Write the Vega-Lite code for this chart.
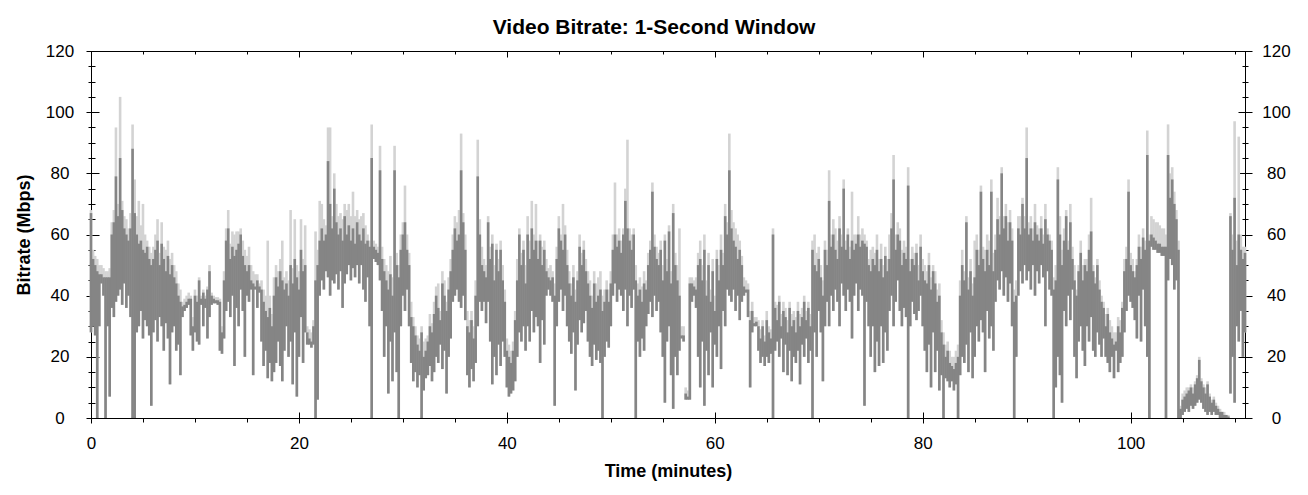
{
"$schema":"https://vega.github.io/schema/vega-lite/v6.json",
"width":1154,"height":367,
"autosize":{"type":"none"},
"padding":{"left":91,"top":51,"right":63,"bottom":77},
"background":"white",
"title":{"text":"Video Bitrate: 1-Second Window","font":"Liberation Sans","fontSize":21,"fontWeight":"bold","color":"black","anchor":"middle","frame":"group","dx":-14,"baseline":"alphabetic","offset":-13},
"config":{"view":{"stroke":"black","strokeWidth":1},"axis":{"tickColor":"black","tickWidth":1,"labelColor":"black","titleColor":"black","grid":false,"zindex":1,"labelFont":"Liberation Sans","titleFont":"Liberation Sans","labelFontSize":17,"titleFontSize":18,"titleFontWeight":"bold","labelFlush":false,"labelOverlap":false,"domain":false}},
"data":{"values":[
{"t":0,"a":28,"b":67,"c":68},{"t":0.2,"a":30,"b":52,"c":55},{"t":0.4,"a":27,"b":50,"c":53},{"t":0.6,"a":0,"b":48,"c":52},{"t":0.8,"a":30,"b":47,"c":50},
{"t":1,"a":44,"b":47,"c":50},{"t":1.2,"a":40,"b":46,"c":49},{"t":1.4,"a":0,"b":46,"c":48},{"t":1.6,"a":30,"b":46,"c":48},{"t":1.8,"a":7,"b":46,"c":49},
{"t":2,"a":36,"b":60,"c":64},{"t":2.2,"a":33,"b":64,"c":68},{"t":2.4,"a":38,"b":79,"c":95},{"t":2.6,"a":40,"b":66,"c":70},{"t":2.8,"a":42,"b":85,"c":105},
{"t":3,"a":37,"b":68,"c":71},{"t":3.2,"a":44,"b":62,"c":66},{"t":3.4,"a":36,"b":60,"c":65},{"t":3.6,"a":40,"b":58,"c":62},{"t":3.8,"a":33,"b":62,"c":67},
{"t":4,"a":0,"b":88,"c":96},{"t":4.2,"a":0,"b":67,"c":78},{"t":4.4,"a":28,"b":60,"c":66},{"t":4.6,"a":30,"b":57,"c":71},{"t":4.8,"a":35,"b":58,"c":63},
{"t":5,"a":26,"b":55,"c":70},{"t":5.2,"a":32,"b":54,"c":60},{"t":5.4,"a":30,"b":56,"c":58},{"t":5.6,"a":27,"b":52,"c":56},{"t":5.8,"a":4,"b":50,"c":54},
{"t":6,"a":28,"b":52,"c":56},{"t":6.2,"a":32,"b":55,"c":60},{"t":6.4,"a":25,"b":58,"c":65},{"t":6.6,"a":33,"b":50,"c":54},{"t":6.8,"a":30,"b":57,"c":64},
{"t":7,"a":22,"b":52,"c":56},{"t":7.2,"a":31,"b":48,"c":55},{"t":7.4,"a":26,"b":53,"c":58},{"t":7.6,"a":11,"b":47,"c":52},{"t":7.8,"a":28,"b":50,"c":54},
{"t":8,"a":30,"b":46,"c":50},{"t":8.2,"a":22,"b":44,"c":48},{"t":8.4,"a":24,"b":40,"c":44},{"t":8.6,"a":14,"b":38,"c":42},{"t":8.8,"a":33,"b":36.5,"c":38},
{"t":9,"a":35,"b":37,"c":39},{"t":9.2,"a":36,"b":38,"c":40},{"t":9.4,"a":37,"b":39,"c":41},{"t":9.6,"a":27,"b":39,"c":40},{"t":9.8,"a":22,"b":30,"c":33},
{"t":10,"a":28,"b":40,"c":42},{"t":10.2,"a":25,"b":38,"c":40},{"t":10.4,"a":24,"b":45,"c":46},{"t":10.6,"a":37,"b":39,"c":40},{"t":10.8,"a":30,"b":41,"c":42},
{"t":11,"a":36,"b":39,"c":40},{"t":11.2,"a":26,"b":42,"c":43},{"t":11.4,"a":33,"b":48,"c":50},{"t":11.6,"a":37,"b":40,"c":41},{"t":11.8,"a":37.5,"b":39,"c":40},
{"t":12,"a":37.5,"b":38.5,"c":39.5},{"t":12.2,"a":37,"b":38.5,"c":39.5},{"t":12.4,"a":22,"b":38,"c":39},{"t":12.6,"a":21,"b":28,"c":30},{"t":12.8,"a":26,"b":45,"c":48},
{"t":13,"a":35,"b":58,"c":62},{"t":13.2,"a":38,"b":62,"c":68},{"t":13.4,"a":33,"b":52,"c":57},{"t":13.6,"a":40,"b":56,"c":61},{"t":13.8,"a":17,"b":53,"c":60},
{"t":14,"a":36,"b":55,"c":61},{"t":14.2,"a":30,"b":57,"c":61},{"t":14.4,"a":42,"b":60,"c":62},{"t":14.6,"a":35,"b":53,"c":58},{"t":14.8,"a":20,"b":50,"c":55},
{"t":15,"a":40,"b":48,"c":53},{"t":15.2,"a":38,"b":50,"c":56},{"t":15.4,"a":42,"b":45,"c":50},{"t":15.6,"a":14,"b":44,"c":48},{"t":15.8,"a":42,"b":43,"c":47},
{"t":16,"a":36,"b":45,"c":47},{"t":16.2,"a":41,"b":43,"c":44},{"t":16.4,"a":25,"b":42,"c":45},{"t":16.6,"a":17,"b":38,"c":42},{"t":16.8,"a":22,"b":35,"c":40},
{"t":17,"a":13,"b":33,"c":58},{"t":17.2,"a":18,"b":36,"c":40},{"t":17.4,"a":12,"b":30,"c":34},{"t":17.6,"a":15,"b":40,"c":46},{"t":17.8,"a":18,"b":46,"c":50},
{"t":18,"a":25,"b":43,"c":48},{"t":18.2,"a":17,"b":48,"c":52},{"t":18.4,"a":12,"b":45,"c":58},{"t":18.6,"a":22,"b":42,"c":46},{"t":18.8,"a":30,"b":44,"c":48},
{"t":19,"a":20,"b":40,"c":45},{"t":19.2,"a":25,"b":50,"c":68},{"t":19.4,"a":11,"b":44,"c":49},{"t":19.6,"a":28,"b":52,"c":65},{"t":19.8,"a":7,"b":46,"c":50},
{"t":20,"a":20,"b":42,"c":48},{"t":20.2,"a":33,"b":55,"c":65},{"t":20.4,"a":18,"b":48,"c":52},{"t":20.6,"a":28,"b":50,"c":63},{"t":20.8,"a":24,"b":28,"c":30},
{"t":21,"a":24,"b":26,"c":29},{"t":21.2,"a":23,"b":25,"c":28},{"t":21.4,"a":24,"b":30,"c":32},{"t":21.6,"a":0,"b":45,"c":61},{"t":21.8,"a":6,"b":50,"c":55},
{"t":22,"a":40,"b":58,"c":71},{"t":22.2,"a":45,"b":62,"c":70},{"t":22.4,"a":42,"b":58,"c":65},{"t":22.6,"a":48,"b":60,"c":63},{"t":22.8,"a":46,"b":84,"c":95},
{"t":23,"a":40,"b":70,"c":95},{"t":23.2,"a":45,"b":62,"c":66},{"t":23.4,"a":44,"b":75,"c":80},{"t":23.6,"a":47,"b":64,"c":70},{"t":23.8,"a":42,"b":60,"c":66},
{"t":24,"a":48,"b":62,"c":67},{"t":24.2,"a":36,"b":58,"c":65},{"t":24.4,"a":44,"b":66,"c":70},{"t":24.6,"a":47,"b":60,"c":68},{"t":24.8,"a":50,"b":63,"c":70},
{"t":25,"a":45,"b":58,"c":66},{"t":25.2,"a":49,"b":62,"c":74},{"t":25.4,"a":46,"b":57,"c":66},{"t":25.6,"a":50,"b":64,"c":68},{"t":25.8,"a":44,"b":60,"c":65},
{"t":26,"a":50,"b":58,"c":66},{"t":26.2,"a":42,"b":62,"c":67},{"t":26.4,"a":38,"b":57,"c":63},{"t":26.6,"a":46,"b":58,"c":60},{"t":26.8,"a":30,"b":56,"c":58},
{"t":27,"a":0,"b":85,"c":96},{"t":27.2,"a":52,"b":56,"c":58},{"t":27.4,"a":51,"b":55,"c":57},{"t":27.6,"a":50,"b":54,"c":56},{"t":27.8,"a":45,"b":81,"c":89},
{"t":28,"a":35,"b":52,"c":56},{"t":28.2,"a":20,"b":48,"c":52},{"t":28.4,"a":30,"b":45,"c":50},{"t":28.6,"a":8,"b":42,"c":48},{"t":28.8,"a":25,"b":47,"c":53},
{"t":29,"a":12,"b":40,"c":46},{"t":29.2,"a":28,"b":81,"c":89},{"t":29.4,"a":15,"b":50,"c":54},{"t":29.6,"a":0,"b":46,"c":50},{"t":29.8,"a":30,"b":55,"c":60},
{"t":30,"a":40,"b":60,"c":64},{"t":30.2,"a":35,"b":64,"c":76},{"t":30.4,"a":42,"b":55,"c":60},{"t":30.6,"a":30,"b":50,"c":54},{"t":30.8,"a":18,"b":33,"c":38},
{"t":31,"a":12,"b":30,"c":33},{"t":31.2,"a":15,"b":27,"c":30},{"t":31.4,"a":10,"b":24,"c":27},{"t":31.6,"a":14,"b":22,"c":26},{"t":31.8,"a":0,"b":28,"c":30},
{"t":32,"a":9,"b":20,"c":25},{"t":32.2,"a":13,"b":22,"c":26},{"t":32.4,"a":14,"b":25,"c":27},{"t":32.6,"a":17,"b":30,"c":34},{"t":32.8,"a":12,"b":28,"c":31},
{"t":33,"a":15,"b":34,"c":38},{"t":33.2,"a":20,"b":40,"c":43},{"t":33.4,"a":18,"b":36,"c":44},{"t":33.6,"a":24,"b":32,"c":35},{"t":33.8,"a":16,"b":44,"c":48},
{"t":34,"a":22,"b":40,"c":45},{"t":34.2,"a":8,"b":35,"c":38},{"t":34.4,"a":20,"b":42,"c":46},{"t":34.6,"a":26,"b":48,"c":52},{"t":34.8,"a":38,"b":55,"c":60},
{"t":35,"a":40,"b":62,"c":66},{"t":35.2,"a":42,"b":58,"c":64},{"t":35.4,"a":38,"b":60,"c":68},{"t":35.6,"a":36,"b":81,"c":93},{"t":35.8,"a":40,"b":64,"c":67},
{"t":36,"a":32,"b":55,"c":60},{"t":36.2,"a":14,"b":30,"c":35},{"t":36.4,"a":10,"b":28,"c":32},{"t":36.6,"a":16,"b":32,"c":35},{"t":36.8,"a":12,"b":26,"c":30},
{"t":37,"a":18,"b":40,"c":45},{"t":37.2,"a":30,"b":79,"c":91},{"t":37.4,"a":38,"b":60,"c":65},{"t":37.6,"a":35,"b":50,"c":56},{"t":37.8,"a":38,"b":48,"c":52},
{"t":38,"a":31,"b":46,"c":50},{"t":38.2,"a":38,"b":64,"c":66},{"t":38.4,"a":25,"b":52,"c":56},{"t":38.6,"a":11,"b":57,"c":60},{"t":38.8,"a":20,"b":45,"c":50},
{"t":39,"a":14,"b":55,"c":57},{"t":39.2,"a":24,"b":48,"c":52},{"t":39.4,"a":17,"b":55,"c":58},{"t":39.6,"a":25,"b":45,"c":50},{"t":39.8,"a":20,"b":38,"c":42},
{"t":40,"a":10,"b":22,"c":26},{"t":40.2,"a":7,"b":20,"c":24},{"t":40.4,"a":8,"b":18,"c":22},{"t":40.6,"a":9,"b":22,"c":25},{"t":40.8,"a":12,"b":32,"c":35},
{"t":41,"a":20,"b":45,"c":52},{"t":41.2,"a":28,"b":60,"c":62},{"t":41.4,"a":25,"b":50,"c":54},{"t":41.6,"a":30,"b":55,"c":58},{"t":41.8,"a":22,"b":44,"c":50},
{"t":42,"a":30,"b":60,"c":66},{"t":42.2,"a":25,"b":52,"c":58},{"t":42.4,"a":35,"b":62,"c":71},{"t":42.6,"a":28,"b":55,"c":60},{"t":42.8,"a":33,"b":58,"c":70},
{"t":43,"a":30,"b":52,"c":58},{"t":43.2,"a":18,"b":58,"c":60},{"t":43.4,"a":32,"b":50,"c":56},{"t":43.6,"a":24,"b":55,"c":58},{"t":43.8,"a":40,"b":48,"c":52},
{"t":44,"a":42,"b":46,"c":49},{"t":44.2,"a":40,"b":45,"c":50},{"t":44.4,"a":38,"b":46,"c":48},{"t":44.6,"a":4,"b":40,"c":44},{"t":44.8,"a":30,"b":52,"c":56},
{"t":45,"a":38,"b":62,"c":66},{"t":45.2,"a":42,"b":58,"c":60},{"t":45.4,"a":35,"b":55,"c":70},{"t":45.6,"a":40,"b":60,"c":63},{"t":45.8,"a":30,"b":50,"c":55},
{"t":46,"a":25,"b":44,"c":48},{"t":46.2,"a":21,"b":40,"c":44},{"t":46.4,"a":28,"b":46,"c":50},{"t":46.6,"a":9,"b":38,"c":42},{"t":46.8,"a":24,"b":45,"c":48},
{"t":47,"a":32,"b":56,"c":60},{"t":47.2,"a":28,"b":50,"c":54},{"t":47.4,"a":31,"b":55,"c":58},{"t":47.6,"a":35,"b":48,"c":52},{"t":47.8,"a":25,"b":44,"c":48},
{"t":48,"a":20,"b":40,"c":45},{"t":48.2,"a":17,"b":36,"c":40},{"t":48.4,"a":24,"b":44,"c":48},{"t":48.6,"a":19,"b":38,"c":44},{"t":48.8,"a":22,"b":40,"c":46},
{"t":49,"a":18,"b":42,"c":48},{"t":49.2,"a":0,"b":35,"c":40},{"t":49.4,"a":20,"b":38,"c":42},{"t":49.6,"a":25,"b":42,"c":45},{"t":49.8,"a":23,"b":38,"c":42},
{"t":50,"a":30,"b":44,"c":48},{"t":50.2,"a":40,"b":55,"c":60},{"t":50.4,"a":44,"b":60,"c":77},{"t":50.6,"a":38,"b":56,"c":60},{"t":50.8,"a":42,"b":58,"c":62},
{"t":51,"a":40,"b":54,"c":58},{"t":51.2,"a":35,"b":60,"c":62},{"t":51.4,"a":42,"b":71,"c":75},{"t":51.6,"a":30,"b":62,"c":91},{"t":51.8,"a":40,"b":58,"c":62},
{"t":52,"a":36,"b":55,"c":60},{"t":52.2,"a":42,"b":60,"c":62},{"t":52.4,"a":0,"b":45,"c":50},{"t":52.6,"a":25,"b":40,"c":44},{"t":52.8,"a":20,"b":42,"c":46},
{"t":53,"a":26,"b":38,"c":43},{"t":53.2,"a":22,"b":44,"c":48},{"t":53.4,"a":30,"b":42,"c":45},{"t":53.6,"a":34,"b":50,"c":54},{"t":53.8,"a":38,"b":55,"c":58},
{"t":54,"a":33,"b":74,"c":77},{"t":54.2,"a":40,"b":56,"c":60},{"t":54.4,"a":35,"b":52,"c":56},{"t":54.6,"a":38,"b":50,"c":54},{"t":54.8,"a":28,"b":55,"c":58},
{"t":55,"a":20,"b":45,"c":50},{"t":55.2,"a":5,"b":58,"c":60},{"t":55.4,"a":25,"b":48,"c":52},{"t":55.6,"a":30,"b":61,"c":63},{"t":55.8,"a":14,"b":44,"c":48},
{"t":56,"a":3,"b":67,"c":70},{"t":56.2,"a":20,"b":50,"c":54},{"t":56.4,"a":14,"b":45,"c":50},{"t":56.6,"a":22,"b":40,"c":62},{"t":56.8,"a":26,"b":27,"c":30},
{"t":57,"a":25,"b":27,"c":30},{"t":57.2,"a":6,"b":8,"c":10},{"t":57.4,"a":6,"b":7,"c":9},{"t":57.6,"a":6,"b":44,"c":46},{"t":57.8,"a":38,"b":44,"c":46},
{"t":58,"a":40,"b":43,"c":45},{"t":58.2,"a":36,"b":42,"c":46},{"t":58.4,"a":20,"b":50,"c":54},{"t":58.6,"a":10,"b":52,"c":58},{"t":58.8,"a":25,"b":45,"c":50},
{"t":59,"a":4,"b":55,"c":60},{"t":59.2,"a":22,"b":40,"c":45},{"t":59.4,"a":14,"b":50,"c":54},{"t":59.6,"a":28,"b":38,"c":42},{"t":59.8,"a":10,"b":48,"c":52},
{"t":60,"a":24,"b":35,"c":40},{"t":60.2,"a":20,"b":52,"c":55},{"t":60.4,"a":30,"b":45,"c":50},{"t":60.6,"a":16,"b":55,"c":60},{"t":60.8,"a":35,"b":50,"c":54},
{"t":61,"a":30,"b":66,"c":70},{"t":61.2,"a":42,"b":60,"c":64},{"t":61.4,"a":40,"b":81,"c":93},{"t":61.6,"a":38,"b":62,"c":68},{"t":61.8,"a":42,"b":58,"c":64},
{"t":62,"a":35,"b":56,"c":62},{"t":62.2,"a":40,"b":52,"c":60},{"t":62.4,"a":32,"b":55,"c":58},{"t":62.6,"a":38,"b":50,"c":53},{"t":62.8,"a":40,"b":43,"c":46},
{"t":63,"a":41,"b":42,"c":45},{"t":63.2,"a":33,"b":42,"c":44},{"t":63.4,"a":10,"b":32,"c":35},{"t":63.6,"a":28,"b":35,"c":38},{"t":63.8,"a":30,"b":31,"c":33},
{"t":64,"a":30,"b":31.5,"c":33},{"t":64.2,"a":22,"b":30,"c":32},{"t":64.4,"a":18,"b":26,"c":29},{"t":64.6,"a":20,"b":30,"c":32},{"t":64.8,"a":17,"b":25,"c":27},
{"t":65,"a":20,"b":32,"c":35},{"t":65.2,"a":18,"b":28,"c":30},{"t":65.4,"a":21,"b":26,"c":29},{"t":65.6,"a":0,"b":60,"c":62},{"t":65.8,"a":22,"b":36,"c":38},
{"t":66,"a":25,"b":32,"c":37},{"t":66.2,"a":20,"b":38,"c":40},{"t":66.4,"a":26,"b":30,"c":34},{"t":66.6,"a":15,"b":35,"c":38},{"t":66.8,"a":24,"b":33,"c":36},
{"t":67,"a":14,"b":28,"c":32},{"t":67.2,"a":22,"b":36,"c":38},{"t":67.4,"a":12,"b":30,"c":34},{"t":67.6,"a":20,"b":32,"c":35},{"t":67.8,"a":18,"b":28,"c":33},
{"t":68,"a":22,"b":35,"c":38},{"t":68.2,"a":11,"b":30,"c":34},{"t":68.4,"a":24,"b":33,"c":36},{"t":68.6,"a":20,"b":38,"c":40},{"t":68.8,"a":26,"b":32,"c":35},
{"t":69,"a":18,"b":36,"c":38},{"t":69.2,"a":22,"b":30,"c":34},{"t":69.4,"a":0,"b":55,"c":58},{"t":69.6,"a":28,"b":50,"c":60},{"t":69.8,"a":20,"b":48,"c":54},
{"t":70,"a":35,"b":52,"c":56},{"t":70.2,"a":28,"b":46,"c":50},{"t":70.4,"a":12,"b":40,"c":45},{"t":70.6,"a":30,"b":55,"c":58},{"t":70.8,"a":38,"b":50,"c":55},
{"t":71,"a":30,"b":71,"c":81},{"t":71.2,"a":40,"b":56,"c":60},{"t":71.4,"a":35,"b":60,"c":65},{"t":71.6,"a":42,"b":55,"c":62},{"t":71.8,"a":38,"b":52,"c":58},
{"t":72,"a":30,"b":62,"c":66},{"t":72.2,"a":44,"b":56,"c":60},{"t":72.4,"a":40,"b":75,"c":78},{"t":72.6,"a":35,"b":55,"c":58},{"t":72.8,"a":42,"b":60,"c":62},
{"t":73,"a":38,"b":52,"c":56},{"t":73.2,"a":26,"b":58,"c":74},{"t":73.4,"a":40,"b":55,"c":60},{"t":73.6,"a":44,"b":57,"c":60},{"t":73.8,"a":35,"b":60,"c":66},
{"t":74,"a":42,"b":56,"c":60},{"t":74.2,"a":40,"b":58,"c":62},{"t":74.4,"a":4,"b":57,"c":60},{"t":74.6,"a":38,"b":56,"c":58},{"t":74.8,"a":30,"b":50,"c":52},
{"t":75,"a":20,"b":48,"c":55},{"t":75.2,"a":30,"b":52,"c":56},{"t":75.4,"a":15,"b":50,"c":54},{"t":75.6,"a":25,"b":55,"c":60},{"t":75.8,"a":17,"b":48,"c":52},
{"t":76,"a":30,"b":52,"c":57},{"t":76.2,"a":18,"b":46,"c":50},{"t":76.4,"a":28,"b":53,"c":56},{"t":76.6,"a":22,"b":48,"c":52},{"t":76.8,"a":35,"b":52,"c":60},
{"t":77,"a":40,"b":62,"c":67},{"t":77.2,"a":30,"b":78,"c":86},{"t":77.4,"a":38,"b":55,"c":60},{"t":77.6,"a":45,"b":60,"c":64},{"t":77.8,"a":35,"b":58,"c":62},
{"t":78,"a":30,"b":50,"c":55},{"t":78.2,"a":36,"b":54,"c":58},{"t":78.4,"a":33,"b":52,"c":56},{"t":78.6,"a":0,"b":76,"c":82},{"t":78.8,"a":30,"b":48,"c":52},
{"t":79,"a":38,"b":52,"c":56},{"t":79.2,"a":34,"b":50,"c":54},{"t":79.4,"a":32,"b":54,"c":57},{"t":79.6,"a":35,"b":45,"c":50},{"t":79.8,"a":40,"b":56,"c":60},
{"t":80,"a":30,"b":48,"c":52},{"t":80.2,"a":22,"b":45,"c":50},{"t":80.4,"a":15,"b":44,"c":48},{"t":80.6,"a":24,"b":50,"c":54},{"t":80.8,"a":10,"b":42,"c":46},
{"t":81,"a":28,"b":48,"c":50},{"t":81.2,"a":15,"b":44,"c":48},{"t":81.4,"a":22,"b":38,"c":42},{"t":81.6,"a":9,"b":40,"c":44},{"t":81.8,"a":14,"b":28,"c":32},
{"t":82,"a":0,"b":24,"c":28},{"t":82.2,"a":13,"b":20,"c":24},{"t":82.4,"a":12,"b":22,"c":25},{"t":82.6,"a":10,"b":18,"c":22},{"t":82.8,"a":12,"b":17,"c":20},
{"t":83,"a":9,"b":16,"c":20},{"t":83.2,"a":11,"b":18,"c":22},{"t":83.4,"a":0,"b":20,"c":24},{"t":83.6,"a":14,"b":40,"c":45},{"t":83.8,"a":20,"b":50,"c":55},
{"t":84,"a":18,"b":45,"c":48},{"t":84.2,"a":24,"b":64,"c":66},{"t":84.4,"a":15,"b":42,"c":46},{"t":84.6,"a":28,"b":48,"c":52},{"t":84.8,"a":13,"b":40,"c":44},
{"t":85,"a":20,"b":46,"c":58},{"t":85.2,"a":30,"b":55,"c":60},{"t":85.4,"a":25,"b":50,"c":55},{"t":85.6,"a":32,"b":74,"c":76},{"t":85.8,"a":28,"b":52,"c":56},
{"t":86,"a":15,"b":48,"c":55},{"t":86.2,"a":35,"b":55,"c":60},{"t":86.4,"a":26,"b":50,"c":58},{"t":86.6,"a":30,"b":74,"c":78},{"t":86.8,"a":22,"b":48,"c":54},
{"t":87,"a":38,"b":55,"c":60},{"t":87.2,"a":45,"b":65,"c":72},{"t":87.4,"a":42,"b":60,"c":66},{"t":87.6,"a":48,"b":80,"c":82},{"t":87.8,"a":40,"b":62,"c":66},
{"t":88,"a":46,"b":66,"c":70},{"t":88.2,"a":38,"b":58,"c":64},{"t":88.4,"a":44,"b":64,"c":68},{"t":88.6,"a":30,"b":58,"c":62},{"t":88.8,"a":0,"b":38,"c":42},
{"t":89,"a":20,"b":40,"c":45},{"t":89.2,"a":40,"b":62,"c":66},{"t":89.4,"a":48,"b":60,"c":66},{"t":89.6,"a":44,"b":70,"c":72},{"t":89.8,"a":50,"b":62,"c":66},
{"t":90,"a":45,"b":85,"c":95},{"t":90.2,"a":48,"b":60,"c":64},{"t":90.4,"a":42,"b":62,"c":66},{"t":90.6,"a":50,"b":58,"c":62},{"t":90.8,"a":40,"b":64,"c":70},
{"t":91,"a":48,"b":60,"c":63},{"t":91.2,"a":44,"b":58,"c":62},{"t":91.4,"a":50,"b":62,"c":66},{"t":91.6,"a":46,"b":57,"c":60},{"t":91.8,"a":30,"b":65,"c":70},
{"t":92,"a":48,"b":60,"c":62},{"t":92.2,"a":42,"b":58,"c":60},{"t":92.4,"a":40,"b":55,"c":58},{"t":92.6,"a":0,"b":42,"c":46},{"t":92.8,"a":10,"b":45,"c":50},
{"t":93,"a":20,"b":78,"c":82},{"t":93.2,"a":14,"b":60,"c":66},{"t":93.4,"a":5,"b":50,"c":55},{"t":93.6,"a":35,"b":58,"c":62},{"t":93.8,"a":30,"b":66,"c":68},
{"t":94,"a":40,"b":55,"c":58},{"t":94.2,"a":32,"b":64,"c":70},{"t":94.4,"a":42,"b":52,"c":56},{"t":94.6,"a":20,"b":45,"c":50},{"t":94.8,"a":13,"b":40,"c":42},
{"t":95,"a":25,"b":48,"c":50},{"t":95.2,"a":30,"b":54,"c":58},{"t":95.4,"a":22,"b":45,"c":50},{"t":95.6,"a":17,"b":50,"c":52},{"t":95.8,"a":30,"b":48,"c":52},
{"t":96,"a":25,"b":55,"c":60},{"t":96.2,"a":33,"b":61,"c":72},{"t":96.4,"a":22,"b":48,"c":50},{"t":96.6,"a":20,"b":44,"c":46},{"t":96.8,"a":28,"b":50,"c":52},
{"t":97,"a":24,"b":42,"c":45},{"t":97.2,"a":20,"b":38,"c":40},{"t":97.4,"a":26,"b":36,"c":38},{"t":97.6,"a":20,"b":30,"c":34},{"t":97.8,"a":18,"b":34,"c":36},
{"t":98,"a":15,"b":28,"c":32},{"t":98.2,"a":20,"b":26,"c":30},{"t":98.4,"a":13,"b":24,"c":28},{"t":98.6,"a":22,"b":25,"c":28},{"t":98.8,"a":15,"b":30,"c":33},
{"t":99,"a":18,"b":28,"c":32},{"t":99.2,"a":20,"b":36,"c":38},{"t":99.4,"a":28,"b":48,"c":52},{"t":99.6,"a":35,"b":52,"c":56},{"t":99.8,"a":40,"b":74,"c":78},
{"t":100,"a":38,"b":50,"c":54},{"t":100.2,"a":36,"b":48,"c":52},{"t":100.4,"a":32,"b":46,"c":48},{"t":100.6,"a":26,"b":50,"c":52},{"t":100.8,"a":40,"b":56,"c":60},
{"t":101,"a":25,"b":52,"c":56},{"t":101.2,"a":42,"b":59,"c":62},{"t":101.4,"a":30,"b":55,"c":58},{"t":101.6,"a":20,"b":86,"c":94},{"t":101.8,"a":0,"b":58,"c":60},
{"t":102,"a":56,"b":60,"c":66},{"t":102.2,"a":55,"b":59,"c":65},{"t":102.4,"a":55,"b":58,"c":64},{"t":102.6,"a":54,"b":57,"c":64},{"t":102.8,"a":54,"b":57,"c":63},
{"t":103,"a":53,"b":56,"c":62},{"t":103.2,"a":53,"b":56,"c":62},{"t":103.4,"a":0,"b":56,"c":60},{"t":103.6,"a":45,"b":86,"c":96},{"t":103.8,"a":52,"b":72,"c":80},
{"t":104,"a":50,"b":78,"c":82},{"t":104.2,"a":42,"b":70,"c":74},{"t":104.4,"a":45,"b":65,"c":68},{"t":104.6,"a":0,"b":55,"c":58},{"t":104.8,"a":0,"b":3,"c":4},
{"t":105,"a":1,"b":6,"c":8},{"t":105.2,"a":2,"b":7,"c":9},{"t":105.4,"a":3,"b":8,"c":10},{"t":105.6,"a":2,"b":9,"c":10},{"t":105.8,"a":4,"b":10,"c":11},
{"t":106,"a":3,"b":8,"c":10},{"t":106.2,"a":4,"b":11,"c":12},{"t":106.4,"a":5,"b":13,"c":14},{"t":106.6,"a":6,"b":19,"c":20},{"t":106.8,"a":5,"b":12,"c":13},
{"t":107,"a":3,"b":10,"c":11},{"t":107.2,"a":2,"b":8,"c":10},{"t":107.4,"a":1,"b":11,"c":12},{"t":107.6,"a":2,"b":7,"c":8},{"t":107.8,"a":1,"b":5,"c":6},
{"t":108,"a":2,"b":6,"c":7},{"t":108.2,"a":1,"b":4,"c":5},{"t":108.4,"a":1,"b":3,"c":4},{"t":108.6,"a":0,"b":2,"c":3},{"t":108.8,"a":0,"b":2,"c":2},
{"t":109,"a":0,"b":1,"c":2},{"t":109.2,"a":0,"b":1,"c":1},{"t":109.4,"a":0,"b":0.5,"c":1},{"t":109.6,"a":8,"b":66,"c":67},{"t":109.8,"a":20,"b":55,"c":60},
{"t":110,"a":5,"b":72,"c":97},{"t":110.2,"a":30,"b":50,"c":58},{"t":110.4,"a":25,"b":60,"c":92},{"t":110.6,"a":35,"b":55,"c":60},{"t":110.8,"a":20,"b":52,"c":56},
{"t":111,"a":28,"b":54,"c":56}
]},
"layer":[
{"mark":{"type":"rule","color":"#d3d3d3","strokeWidth":2.6},
 "encoding":{
  "x":{"field":"t","type":"quantitative","scale":{"domain":[0,111],"nice":false,"zero":false},
       "axis":{"orient":"bottom","values":[0,20,40,60,80,100],"offset":-6,"tickSize":11,"labelPadding":25,"labelBaseline":"alphabetic","title":"Time (minutes)","titleBaseline":"alphabetic","titleY":64}},
  "y":{"field":"a","type":"quantitative","scale":{"domain":[0,120],"nice":false,"zero":true},
       "axis":{"orient":"left","values":[0,20,40,60,80,100,120],"offset":-8,"tickSize":13,"labelAlign":"center","labelPadding":26.5,"title":"Bitrate (Mbps)","titleBaseline":"alphabetic","titleAngle":-90,"titleX":-70,"titleY":183.5}},
  "y2":{"field":"c"}}},
{"mark":{"type":"rule","color":"#858585","strokeWidth":2.6},
 "encoding":{
  "x":{"field":"t","type":"quantitative","scale":{"domain":[0,111],"nice":false,"zero":false},
       "axis":{"orient":"top","values":[0,20,40,60,80,100],"offset":-6,"tickSize":6,"labels":false,"title":null}},
  "y":{"field":"a","type":"quantitative","scale":{"domain":[0,120],"nice":false},
       "axis":{"orient":"right","values":[0,20,40,60,80,100,120],"offset":-7,"tickSize":14,"labelAlign":"center","labelPadding":24,"title":null}},
  "y2":{"field":"b"}}},
{"data":{"values":[{"t":0,"a":0}]},
 "mark":{"type":"point","opacity":0},
 "encoding":{
  "x":{"field":"t","type":"quantitative","scale":{"domain":[0,111],"nice":false,"zero":false},
       "axis":{"orient":"bottom","values":[0,5,10,15,20,25,30,35,40,45,50,55,60,65,70,75,80,85,90,95,100,105,110],"offset":0,"tickSize":4,"labels":false,"title":null}},
  "y":{"field":"a","type":"quantitative","scale":{"domain":[0,120],"nice":false},
       "axis":{"orient":"left","values":[0,5,10,15,20,25,30,35,40,45,50,55,60,65,70,75,80,85,90,95,100,105,110,115,120],"offset":-4,"tickSize":7,"labels":false,"title":null}}}},
{"data":{"values":[{"t":0,"a":0}]},
 "mark":{"type":"point","opacity":0},
 "encoding":{
  "x":{"field":"t","type":"quantitative","scale":{"domain":[0,111],"nice":false,"zero":false},
       "axis":{"orient":"top","values":[0,5,10,15,20,25,30,35,40,45,50,55,60,65,70,75,80,85,90,95,100,105,110],"offset":-3,"tickSize":3,"labels":false,"title":null}},
  "y":{"field":"a","type":"quantitative","scale":{"domain":[0,120],"nice":false},
       "axis":{"orient":"right","values":[0,5,10,15,20,25,30,35,40,45,50,55,60,65,70,75,80,85,90,95,100,105,110,115,120],"offset":-3,"tickSize":6,"labels":false,"title":null}}}}
],
"resolve":{"axis":{"x":"independent","y":"independent"}}
}
